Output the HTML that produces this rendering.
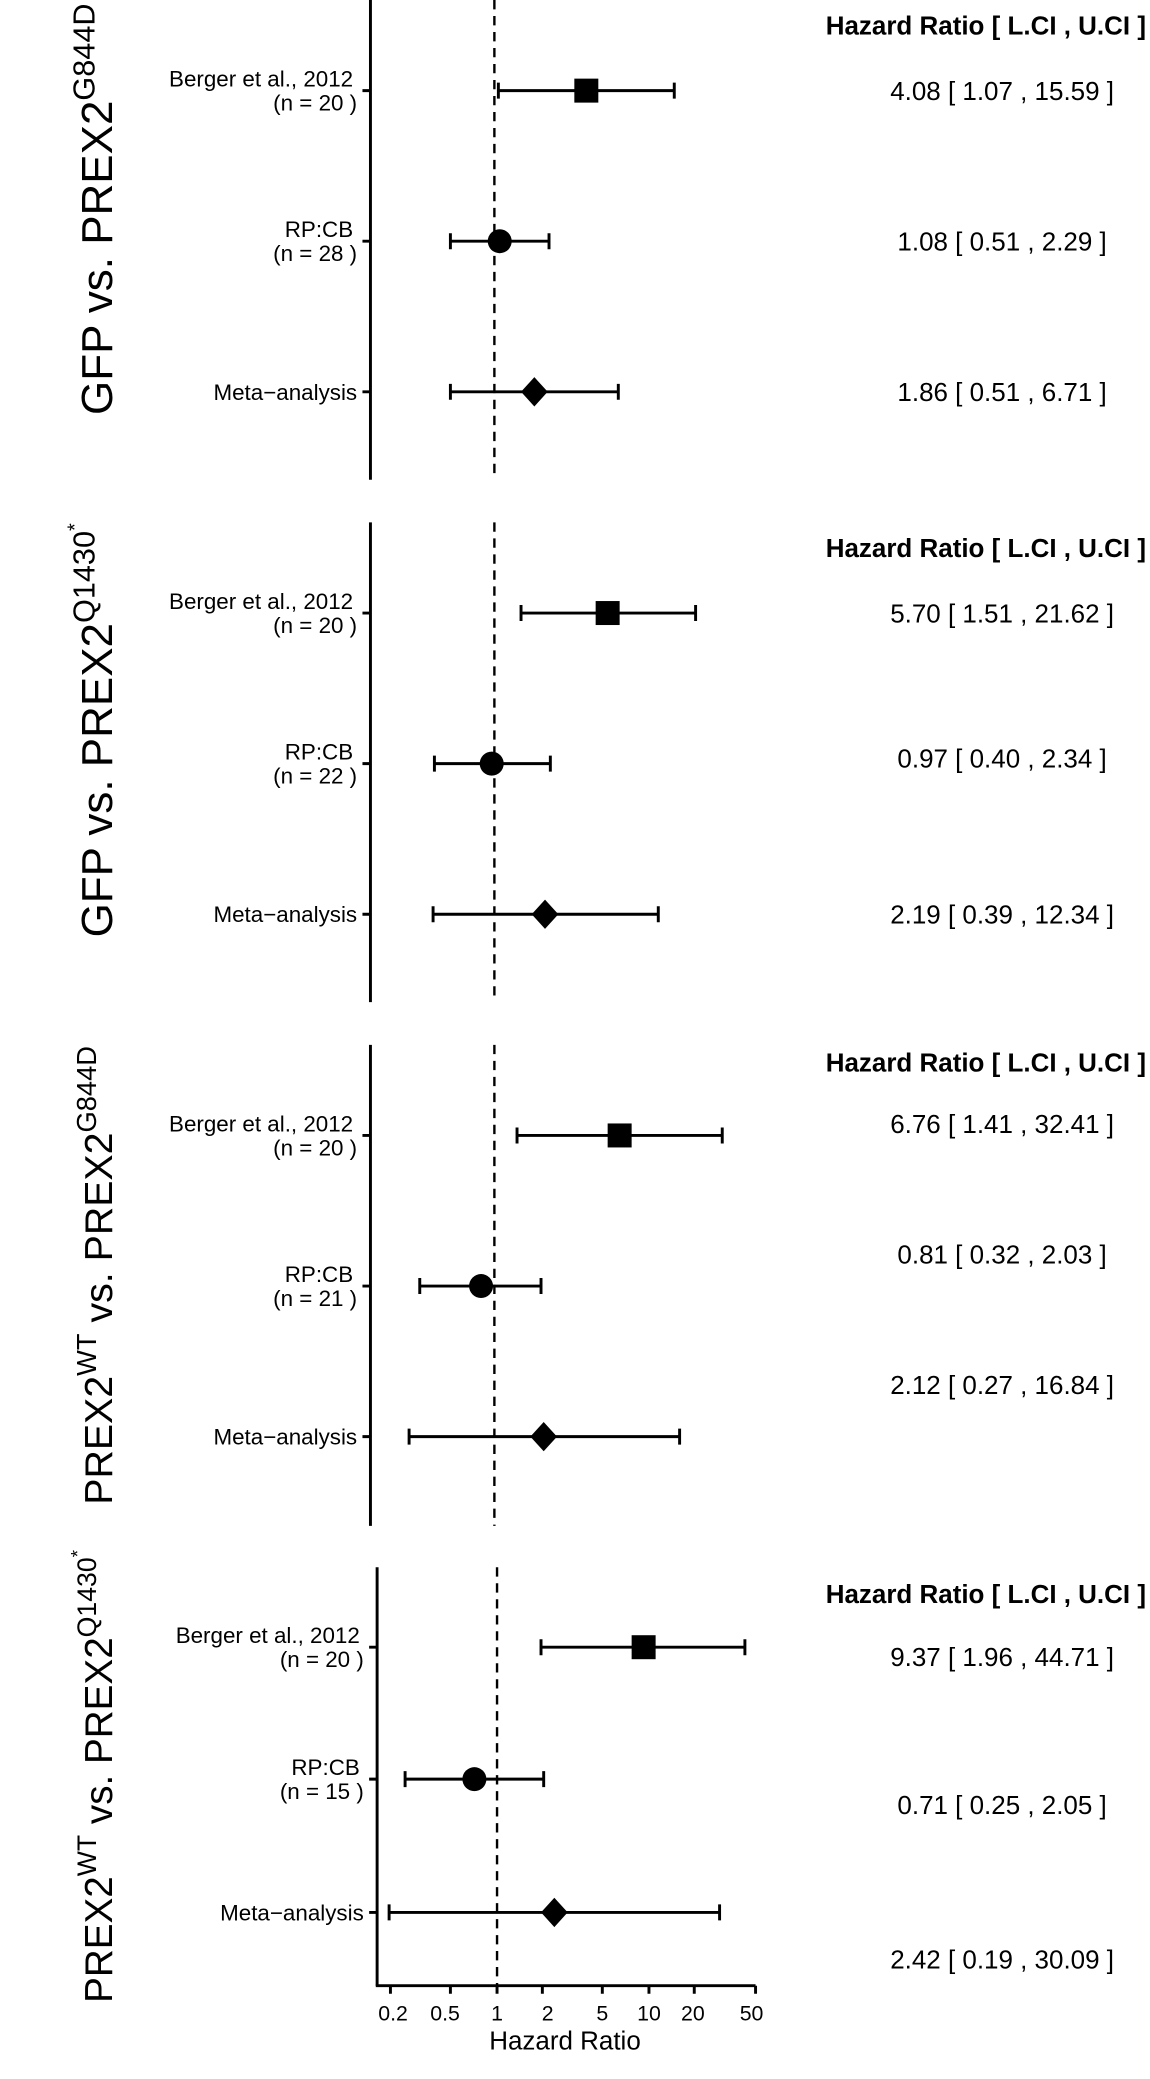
<!DOCTYPE html>
<html><head><meta charset="utf-8"><style>
html,body{margin:0;padding:0;background:#fff;}
svg{display:block;}
text{font-family:"Liberation Sans",Arial,sans-serif;fill:#000;}
.lab{font-size:16.8px;text-anchor:end;}
.val{font-size:19.5px;text-anchor:middle;}
.hdr{font-size:19.5px;font-weight:bold;text-anchor:end;}
.ttl{font-size:33px;text-anchor:middle;}
.tk{font-size:16px;text-anchor:middle;}
</style></head><body>
<svg width="1150" height="2079" viewBox="0 0 863 1560" preserveAspectRatio="none" xmlns="http://www.w3.org/2000/svg">
<g stroke="#000" stroke-width="2.2" fill="none">
<line x1="278" y1="0" x2="278" y2="360"/>
<line x1="278" y1="392" x2="278" y2="752"/>
<line x1="278" y1="784" x2="278" y2="1145"/>
<line x1="283" y1="1176" x2="283" y2="1490"/>
<line x1="282" y1="1490" x2="567" y2="1490"/>
<g stroke-dasharray="7,5" stroke-width="1.8">
<line x1="371" y1="0" x2="371" y2="360"/>
<line x1="371" y1="392" x2="371" y2="752"/>
<line x1="371" y1="784" x2="371" y2="1145"/>
<line x1="373" y1="1176" x2="373" y2="1490"/>
</g>
<path d="M272 68H278M272 181H278M272 294H278M272 460H278M272 573H278M272 686H278M272 852H278M272 965H278M272 1078H278M277 1236H283M277 1335H283M277 1435H283"/>
<path d="M293 1490V1496M338 1490V1496M373 1490V1496M407 1490V1496M452 1490V1496M487 1490V1496M521 1490V1496M567 1490V1496"/>
<path d="M374 68H506M374 62V74M506 62V74"/>
<path d="M338 181H412M338 175V187M412 175V187"/>
<path d="M338 294H464M338 288V300M464 288V300"/>
<path d="M391 460H522M391 454V466M522 454V466"/>
<path d="M326 573H413M326 567V579M413 567V579"/>
<path d="M325 686H494M325 680V692M494 680V692"/>
<path d="M388 852H542M388 846V858M542 846V858"/>
<path d="M315 965H406M315 959V971M406 959V971"/>
<path d="M307 1078H510M307 1072V1084M510 1072V1084"/>
<path d="M406 1236H559M406 1230V1242M559 1230V1242"/>
<path d="M304 1335H408M304 1329V1341M408 1329V1341"/>
<path d="M292 1435H540M292 1429V1441M540 1429V1441"/>
</g>
<g fill="#000">
<rect x="431" y="59" width="18" height="18"/>
<circle cx="375" cy="181" r="9"/>
<path d="M401 283L411 294L401 305L391 294Z"/>
<rect x="447" y="451" width="18" height="18"/>
<circle cx="369" cy="573" r="9"/>
<path d="M409 675L419 686L409 697L399 686Z"/>
<rect x="456" y="843" width="18" height="18"/>
<circle cx="361" cy="965" r="9"/>
<path d="M408 1067L418 1078L408 1089L398 1078Z"/>
<rect x="474" y="1227" width="18" height="18"/>
<circle cx="356" cy="1335" r="9"/>
<path d="M416 1424L426 1435L416 1446L406 1435Z"/>
</g>
<text class="lab" x="265" y="65">Berger et al., 2012</text><text class="lab" x="268" y="83">(n = 20 )</text>
<text class="lab" x="265" y="178">RP:CB</text><text class="lab" x="268" y="196">(n = 28 )</text>
<text class="lab" x="268" y="300">Meta−analysis</text>
<text class="lab" x="265" y="457">Berger et al., 2012</text><text class="lab" x="268" y="475">(n = 20 )</text>
<text class="lab" x="265" y="570">RP:CB</text><text class="lab" x="268" y="588">(n = 22 )</text>
<text class="lab" x="268" y="692">Meta−analysis</text>
<text class="lab" x="265" y="849">Berger et al., 2012</text><text class="lab" x="268" y="867">(n = 20 )</text>
<text class="lab" x="265" y="962">RP:CB</text><text class="lab" x="268" y="980">(n = 21 )</text>
<text class="lab" x="268" y="1084">Meta−analysis</text>
<text class="lab" x="270" y="1233">Berger et al., 2012</text><text class="lab" x="273" y="1251">(n = 20 )</text>
<text class="lab" x="270" y="1332">RP:CB</text><text class="lab" x="273" y="1350">(n = 15 )</text>
<text class="lab" x="273" y="1441">Meta−analysis</text>
<text class="hdr" x="860" y="26">Hazard Ratio [ L.CI , U.CI ]</text>
<text class="hdr" x="860" y="418">Hazard Ratio [ L.CI , U.CI ]</text>
<text class="hdr" x="860" y="804">Hazard Ratio [ L.CI , U.CI ]</text>
<text class="hdr" x="860" y="1203">Hazard Ratio [ L.CI , U.CI ]</text>
<text class="val" x="752" y="75">4.08 [ 1.07 , 15.59 ]</text>
<text class="val" x="752" y="188">1.08 [ 0.51 , 2.29 ]</text>
<text class="val" x="752" y="301">1.86 [ 0.51 , 6.71 ]</text>
<text class="val" x="752" y="467">5.70 [ 1.51 , 21.62 ]</text>
<text class="val" x="752" y="576">0.97 [ 0.40 , 2.34 ]</text>
<text class="val" x="752" y="693">2.19 [ 0.39 , 12.34 ]</text>
<text class="val" x="752" y="850">6.76 [ 1.41 , 32.41 ]</text>
<text class="val" x="752" y="948">0.81 [ 0.32 , 2.03 ]</text>
<text class="val" x="752" y="1046">2.12 [ 0.27 , 16.84 ]</text>
<text class="val" x="752" y="1250">9.37 [ 1.96 , 44.71 ]</text>
<text class="val" x="752" y="1361">0.71 [ 0.25 , 2.05 ]</text>
<text class="val" x="752" y="1477">2.42 [ 0.19 , 30.09 ]</text>
<text class="tk" x="295" y="1516">0.2</text>
<text class="tk" x="334" y="1516">0.5</text>
<text class="tk" x="373" y="1516">1</text>
<text class="tk" x="411" y="1516">2</text>
<text class="tk" x="452" y="1516">5</text>
<text class="tk" x="487" y="1516">10</text>
<text class="tk" x="520" y="1516">20</text>
<text class="tk" x="564" y="1516">50</text>
<text class="tk" x="424" y="1538" style="font-size:19.5px">Hazard Ratio</text>
<text class="ttl" transform="translate(84,157) rotate(-90)">GFP vs. PREX2<tspan dy="-13" font-size="23">G844D</tspan></text>
<text class="ttl" transform="translate(84,548) rotate(-90)">GFP vs. PREX2<tspan dy="-13" font-size="23">Q1430</tspan><tspan dy="-10" font-size="15">*</tspan></text>
<text class="ttl" transform="translate(84,957) rotate(-90)" style="font-size:29.5px">PREX2<tspan dy="-12" font-size="20.5">WT</tspan><tspan dy="12"> vs. PREX2</tspan><tspan dy="-12" font-size="20.5">G844D</tspan></text>
<text class="ttl" transform="translate(84,1333) rotate(-90)" style="font-size:29px">PREX2<tspan dy="-12" font-size="20">WT</tspan><tspan dy="12"> vs. PREX2</tspan><tspan dy="-12" font-size="20">Q1430</tspan><tspan dy="-9" font-size="14">*</tspan></text>
</svg>
</body></html>
